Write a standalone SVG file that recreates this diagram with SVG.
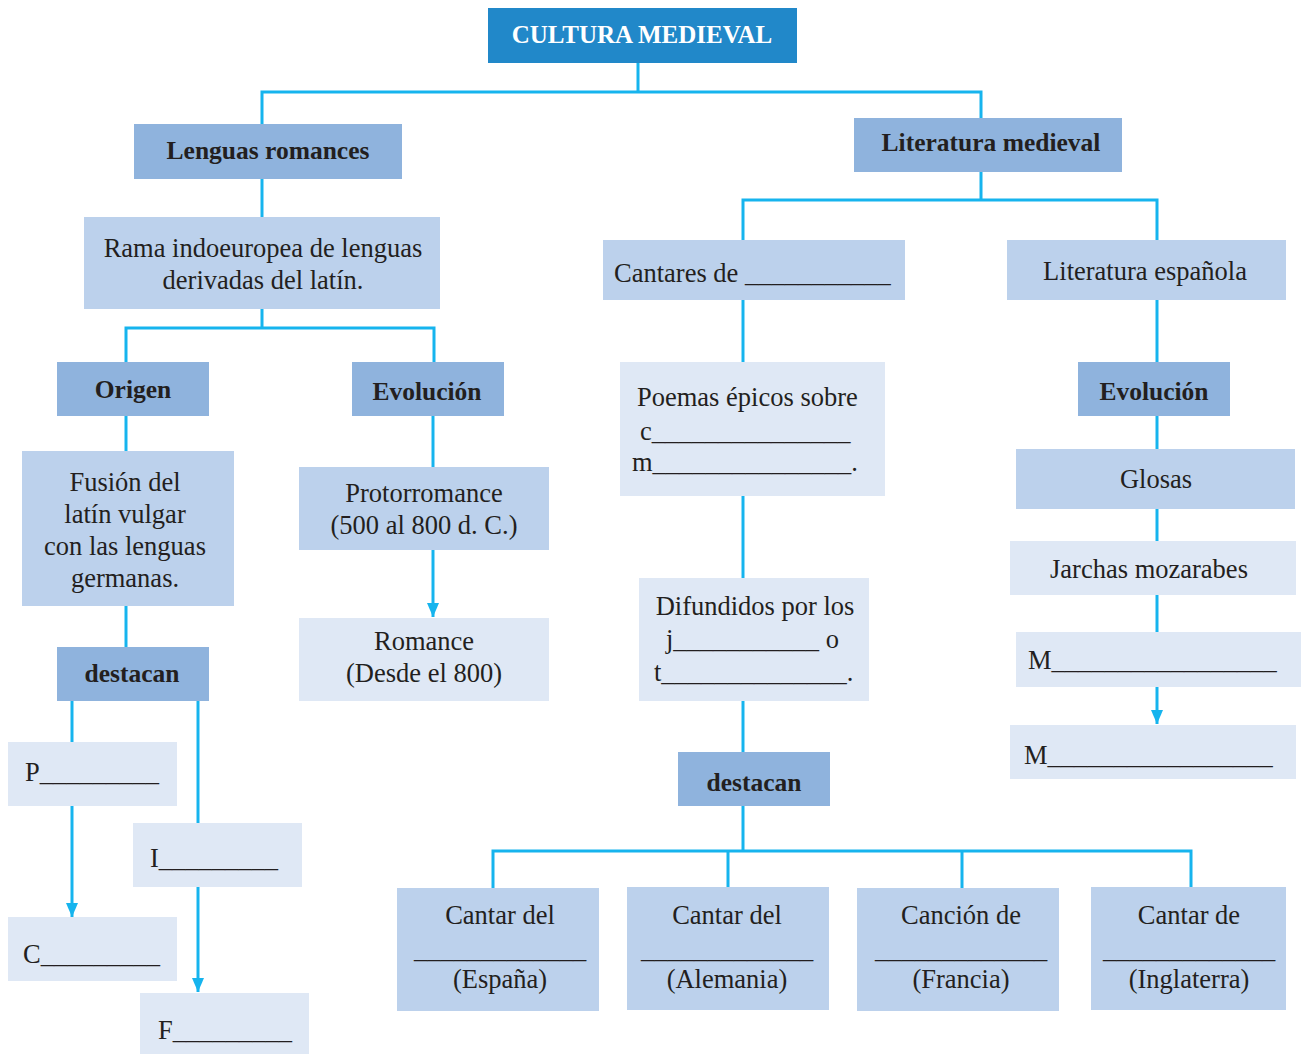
<svg xmlns="http://www.w3.org/2000/svg" width="1301" height="1054" viewBox="0 0 1301 1054">
<style>
.t{font-family:"Liberation Serif","Times New Roman",serif;font-size:26.5px;fill:#231f20}
.b{font-weight:bold;font-size:25.5px}
.c{text-anchor:middle}
.top{fill:#2188c9}
.h{fill:#8fb3dd}
.m{fill:#bcd1ec}
.l{fill:#dfe8f5}
.ln{fill:none;stroke:#16b4ee;stroke-width:3}
</style>
<defs>
<marker id="ah" viewBox="0 0 14 12" refX="14" refY="6" markerWidth="14" markerHeight="12" markerUnits="userSpaceOnUse" orient="auto">
<path d="M0,0 L14,6 L0,12 Z" fill="#16b4ee"/>
</marker>
</defs>
<g id="connectors">
<path class="ln" d="M638,63 V92 M262,124 V92 H981 V118"/>
<path class="ln" d="M262,179 V217"/>
<path class="ln" d="M262,309 V328 M126,362 V328 H434 V362"/>
<path class="ln" d="M126,416 V451"/>
<path class="ln" d="M126,606 V647"/>
<path class="ln" d="M72,701 V742"/>
<path class="ln" d="M198,701 V823"/>
<path class="ln" d="M72,806 V917" marker-end="url(#ah)"/>
<path class="ln" d="M198,887 V992" marker-end="url(#ah)"/>
<path class="ln" d="M433,416 V467"/>
<path class="ln" d="M433,550 V617" marker-end="url(#ah)"/>
<path class="ln" d="M981,172 V200 M743,240 V200 H1157 V240"/>
<path class="ln" d="M743,300 V362"/>
<path class="ln" d="M743,496 V578"/>
<path class="ln" d="M743,701 V752"/>
<path class="ln" d="M743,806 V851 M493,888 V851 H1191 V887 M728,851 V887 M962,851 V888"/>
<path class="ln" d="M1157,300 V362"/>
<path class="ln" d="M1157,416 V449"/>
<path class="ln" d="M1157,509 V541"/>
<path class="ln" d="M1157,595 V632"/>
<path class="ln" d="M1157,687 V724" marker-end="url(#ah)"/>
</g>
<g id="cultura"><rect class="top" x="488" y="8" width="309" height="55"/><text class="t b c" x="642" y="43" style="fill:#fff;font-size:25px">CULTURA MEDIEVAL</text></g>
<g id="lenguas"><rect class="h" x="134" y="124" width="268" height="55"/><text class="t b c" x="268" y="159">Lenguas romances</text></g>
<g id="rama"><rect class="m" x="84" y="217" width="356" height="92"/><text class="t c" x="263" y="257">Rama indoeuropea de lenguas</text><text class="t c" x="263" y="289">derivadas del latín.</text></g>
<g id="origen"><rect class="h" x="57" y="362" width="152" height="54"/><text class="t b c" x="133" y="398">Origen</text></g>
<g id="evolucion1"><rect class="h" x="352" y="362" width="152" height="54"/><text class="t b c" x="427" y="400">Evolución</text></g>
<g id="fusion"><rect class="m" x="22" y="451" width="212" height="155"/><text class="t c" x="125" y="491">Fusión del</text><text class="t c" x="125" y="523">latín vulgar</text><text class="t c" x="125" y="555">con las lenguas</text><text class="t c" x="125" y="587">germanas.</text></g>
<g id="destacan1"><rect class="h" x="57" y="647" width="152" height="54"/><text class="t b c" x="132" y="682">destacan</text></g>
<g id="p"><rect class="l" x="8" y="742" width="169" height="64"/><text class="t" x="25" y="781">P_________</text></g>
<g id="c"><rect class="l" x="8" y="917" width="169" height="64"/><text class="t" x="23" y="963">C_________</text></g>
<g id="i"><rect class="l" x="133" y="823" width="169" height="64"/><text class="t" x="150" y="867">I_________</text></g>
<g id="f"><rect class="l" x="140" y="993" width="169" height="61"/><text class="t" x="158" y="1039">F_________</text></g>
<g id="protorromance"><rect class="m" x="299" y="467" width="250" height="83"/><text class="t c" x="424" y="502">Protorromance</text><text class="t c" x="424" y="534">(500 al 800 d. C.)</text></g>
<g id="romance"><rect class="l" x="299" y="618" width="250" height="83"/><text class="t c" x="424" y="650">Romance</text><text class="t c" x="424" y="682">(Desde el 800)</text></g>
<g id="literatura"><rect class="h" x="854" y="118" width="268" height="54"/><text class="t b c" x="991" y="151">Literatura medieval</text></g>
<g id="cantares"><rect class="m" x="603" y="240" width="302" height="60"/><text class="t" x="614" y="282">Cantares de ___________</text></g>
<g id="poemas"><rect class="l" x="620" y="362" width="265" height="134"/><text class="t" x="637" y="406">Poemas épicos sobre</text><text class="t" x="640" y="440">c_______________</text><text class="t" x="632" y="471">m_______________.</text></g>
<g id="difundidos"><rect class="l" x="639" y="578" width="230" height="123"/><text class="t c" x="755" y="615">Difundidos por los</text><text class="t" x="666" y="648">j___________ o</text><text class="t" x="654" y="681">t______________.</text></g>
<g id="destacan2"><rect class="h" x="678" y="752" width="152" height="54"/><text class="t b c" x="754" y="791">destacan</text></g>
<g id="espana"><rect class="m" x="397" y="888" width="202" height="123"/><text class="t c" x="500" y="924">Cantar del</text><text class="t c" x="500" y="958">_____________</text><text class="t c" x="500" y="988">(España)</text></g>
<g id="alemania"><rect class="m" x="627" y="887" width="202" height="123"/><text class="t c" x="727" y="924">Cantar del</text><text class="t c" x="727" y="958">_____________</text><text class="t c" x="727" y="988">(Alemania)</text></g>
<g id="francia"><rect class="m" x="857" y="888" width="202" height="123"/><text class="t c" x="961" y="924">Canción de</text><text class="t c" x="961" y="958">_____________</text><text class="t c" x="961" y="988">(Francia)</text></g>
<g id="inglaterra"><rect class="m" x="1091" y="887" width="195" height="123"/><text class="t c" x="1189" y="924">Cantar de</text><text class="t c" x="1189" y="958">_____________</text><text class="t c" x="1189" y="988">(Inglaterra)</text></g>
<g id="litesp"><rect class="m" x="1007" y="240" width="279" height="60"/><text class="t c" x="1145" y="280">Literatura española</text></g>
<g id="evolucion2"><rect class="h" x="1078" y="362" width="152" height="54"/><text class="t b c" x="1154" y="400">Evolución</text></g>
<g id="glosas"><rect class="m" x="1016" y="449" width="279" height="60"/><text class="t c" x="1156" y="488">Glosas</text></g>
<g id="jarchas"><rect class="l" x="1010" y="541" width="286" height="54"/><text class="t c" x="1149" y="578">Jarchas mozarabes</text></g>
<g id="m1"><rect class="l" x="1016" y="632" width="285" height="55"/><text class="t" x="1028" y="669">M_________________</text></g>
<g id="m2"><rect class="l" x="1010" y="725" width="286" height="54"/><text class="t" x="1024" y="764">M_________________</text></g>
</svg>
